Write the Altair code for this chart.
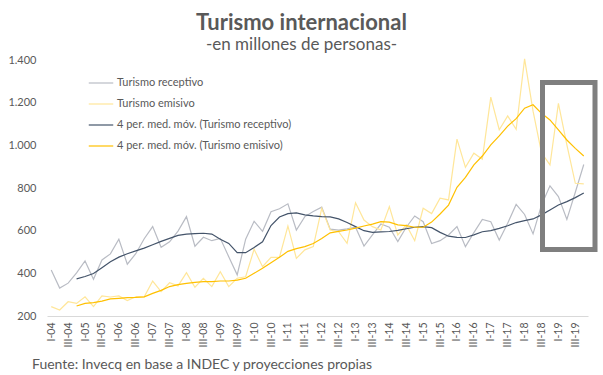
import altair as alt
import pandas as pd

years = [f"{y:02d}" for y in range(4, 20)]
roman = ["I", "II", "III", "IV"]
quarters = [f"{r}-{y}" for y in years for r in roman]
tick_labels = [q for q in quarters if q.split("-")[0] in ("I", "III")]

receptivo = [416, 331, 354, 402, 458, 372, 463, 491, 560, 443, 492, 562,
             619, 522, 548, 598, 666, 527, 569, 553, 564, 478, 393, 560,
             644, 597, 689, 703, 726, 603, 666, 690, 710, 607, 603, 608,
             616, 528, 580, 631, 616, 549, 616, 669, 642, 540, 553, 580,
             619, 525, 591, 653, 642, 556, 635, 723, 676, 585, 720, 810,
             760, 653, 780, 910]
emisivo = [244, 228, 267, 259, 290, 244, 294, 289, 294, 272, 290, 290,
           364, 314, 356, 341, 403, 335, 377, 338, 408, 338, 377, 384,
           513, 431, 475, 475, 622, 470, 510, 525, 705, 603, 595, 541,
           731, 650, 619, 603, 713, 580, 627, 553, 705, 680, 752, 744,
           1029, 897, 963, 935, 1226, 1073, 1138, 1075, 1405, 1160, 965, 908,
           1197, 1002, 822, 819]
mm_receptivo = [None, None, None, 374, 385, 399, 426, 454, 476, 492, 505, 518,
                534, 550, 564, 578, 584, 586, 588, 584, 560, 540, 497, 497,
                521, 548, 624, 664, 680, 683, 674, 669, 666, 665, 655, 638,
                619, 600, 592, 594, 596, 601, 609, 616, 619, 614, 592, 574,
                569, 568, 580, 595, 600, 611, 623, 638, 647, 655, 674, 697,
                720, 736, 755, 777]
mm_emisivo = [None, None, None, 247, 259, 263, 270, 280, 283, 286, 287, 290,
              306, 320, 338, 347, 353, 358, 361, 361, 364, 364, 368, 377,
              400, 424, 450, 475, 503, 516, 525, 540, 563, 590, 597, 603,
              612, 622, 631, 642, 640, 627, 624, 616, 616, 640, 678, 720,
              803, 850, 908, 950, 1002, 1044, 1090, 1125, 1174, 1190, 1150, 1119,
              1072, 1025, 986, 950]

series_names = ["Turismo receptivo", "Turismo emisivo",
                "4 per. med. móv. (Turismo receptivo)",
                "4 per. med. móv. (Turismo emisivo)"]
series_colors = ["#b9bcc4", "#ffe699", "#44546a", "#ffc000"]
series_widths = [1.2, 1.2, 2.6, 2.6]

rows = []
for name, vals in zip(series_names, [receptivo, emisivo, mm_receptivo, mm_emisivo]):
    for q, v in zip(quarters, vals):
        if v is not None:
            rows.append({"trimestre": q, "serie": name, "valor": v})
df = pd.DataFrame(rows)

FONT = "Lato"
GREY_TEXT = "#595959"

x_enc = alt.X("trimestre:N", sort=quarters,
              scale=alt.Scale(type="point", domain=quarters, padding=0.5),
              axis=alt.Axis(values=tick_labels, title=None, labelAngle=270,
                            labelFontSize=10.5, labelColor=GREY_TEXT, labelFont=FONT,
                            ticks=False, domainColor="#d9d9d9", domainWidth=1,
                            labelPadding=6, grid=False))
y_scale = alt.Scale(domain=[200, 1400], nice=False, zero=False)

lines = alt.Chart(df).mark_line(clip=False).encode(
    x=x_enc,
    y=alt.Y("valor:Q", scale=y_scale,
            axis=alt.Axis(values=[200, 400, 600, 800, 1000, 1200, 1400], title=None,
                          labelExpr="replace(format(datum.value, ','), ',', '.')",
                          labelFontSize=11, labelColor=GREY_TEXT, labelFont=FONT,
                          ticks=False, domain=False, grid=False, labelPadding=11)),
    color=alt.Color("serie:N", sort=series_names,
                    scale=alt.Scale(domain=series_names, range=series_colors),
                    legend=alt.Legend(title=None, orient="none", legendX=41, legendY=10,
                                      symbolType="stroke", symbolSize=600,
                                      labelFontSize=11, labelColor=GREY_TEXT, labelFont=FONT,
                                      labelOffset=3, rowPadding=3, padding=0,
                                      labelLimit=400)),
    strokeWidth=alt.StrokeWidth("serie:N", sort=series_names,
                                scale=alt.Scale(domain=series_names, range=series_widths),
                                legend=None),
    detail="serie:N",
)

box_df = pd.DataFrame({"top": [1295], "bottom": [512]})
box = alt.Chart(box_df).mark_rect(fill=None, stroke="#7f7f7f", strokeWidth=5, clip=False).encode(
    x=alt.value(495.5), x2=alt.value(548),
    y=alt.Y("top:Q", scale=y_scale), y2="bottom:Q",
)

fuente_df = pd.DataFrame({"texto": ["Fuente: Invecq en base a INDEC y proyecciones propias"]})
fuente = alt.Chart(fuente_df).mark_text(align="left", baseline="alphabetic", fontSize=14,
                                        font=FONT, color=GREY_TEXT).encode(
    text="texto:N", x=alt.value(-15), y=alt.value(309),
)

chart = alt.layer(lines, box, fuente).properties(
    width=541, height=256,
    title=alt.TitleParams(text="Turismo internacional", subtitle="-en millones de personas-",
                          anchor="middle", dx=-16, fontSize=22, fontWeight="bold",
                          font=FONT, color=GREY_TEXT, subtitleFont=FONT,
                          subtitleFontSize=17, subtitleColor=GREY_TEXT,
                          offset=0, subtitlePadding=2),
    autosize=alt.AutoSizeParams(type="none"),
    padding={"left": 47, "top": 60, "right": 15, "bottom": 59},
    background="white",
).configure_view(stroke=None)

chart.save("out.html", embed_options={"renderer": "svg", "actions": False})
